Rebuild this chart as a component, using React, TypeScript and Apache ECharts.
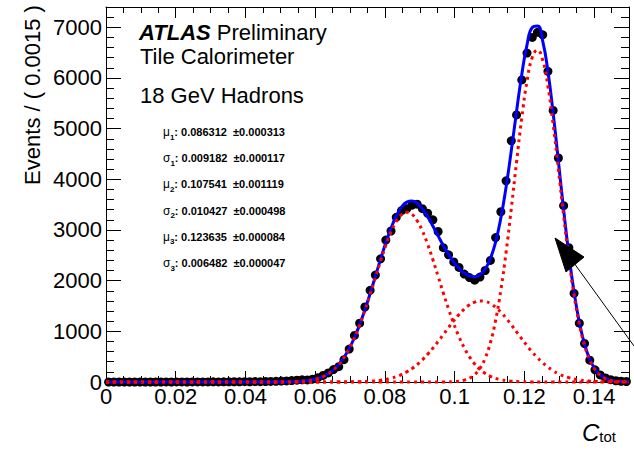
import React, { useEffect, useRef } from "react";
import * as echarts from "echarts";

// ---- data ----
const BIN_WIDTH = 0.0015; // "Events / ( 0.0015 )"
const X_MIN = 0;
const X_MAX = 0.15;
const Y_MAX = 7400;
const X_LABEL_STEP = 0.02;
const Y_LABEL_STEP = 1000;

// measured events per bin (100 bins, 0 .. 0.15)
const events = [
  0, 0, 0, 0, 0, 0, 0, 0, 0, 0,
  0, 1, 0, 1, 1, 0, 2, 1, 2, 2,
  3, 2, 4, 3, 5, 4, 6, 5, 8, 7,
  10, 12, 14, 18, 22, 28, 35, 42, 40, 55,
  85, 130, 180, 245, 302, 440, 650, 920, 1160, 1480,
  1810, 2110, 2430, 2800, 2980, 3250, 3380, 3420, 3490, 3510,
  3420, 3330, 3200, 2970, 2650, 2510, 2370, 2260, 2130, 2060,
  2010, 2070, 2200, 2400, 2850, 3360, 3970, 4760, 5270, 5960,
  6490, 6800, 6900, 6850, 6130, 5360, 4420, 3480, 2650, 1750,
  1160, 760, 430, 240, 140, 80, 45, 25, 15, 10,
];

// fitted components (red dotted) at the bin centres
const gauss1 = [
  0, 0, 0, 0, 0, 0, 0, 0, 0, 0,
  0, 0, 0, 0, 0, 0, 0, 0, 0, 0,
  0, 0, 0, 0, 0, 0, 0, 0, 0, 0,
  0, 0, 1, 1.5, 3, 5, 9, 16, 27, 44,
  70, 108, 164, 242, 346, 484, 659, 873, 1126, 1414,
  1729, 2059, 2387, 2694, 2961, 3169, 3302, 3350, 3309, 3183,
  2980, 2718, 2412, 2085, 1755, 1439, 1148, 892, 674, 497,
  356, 249, 169, 112, 72, 45, 28, 16, 10, 5,
  3, 1.5, 1, 0, 0, 0, 0, 0, 0, 0,
  0, 0, 0, 0, 0, 0, 0, 0, 0, 0,
];
const gauss2 = [
  0, 0, 0, 0, 0, 0, 0, 0, 0, 0,
  0, 0, 0, 0, 0, 0, 0, 0, 0, 0,
  0, 0, 0, 0, 0, 0, 0, 0, 0, 0,
  0, 0, 0, 0, 0, 0, 0, 0, 0, 0,
  0, 0, 0, 0.4, 0.8, 1.3, 2.2, 3.7, 6, 9.8,
  15, 24, 35, 52, 75, 106, 147, 199, 264, 344,
  438, 546, 668, 799, 937, 1076, 1211, 1334, 1440, 1523,
  1577, 1599, 1589, 1547, 1474, 1377, 1259, 1128, 990, 851,
  717, 591, 477, 378, 293, 222, 165, 120, 86, 60,
  41, 28, 18, 12, 7, 5, 3, 2, 1, 0.5,
];
const gauss3 = [
  0, 0, 0, 0, 0, 0, 0, 0, 0, 0,
  0, 0, 0, 0, 0, 0, 0, 0, 0, 0,
  0, 0, 0, 0, 0, 0, 0, 0, 0, 0,
  0, 0, 0, 0, 0, 0, 0, 0, 0, 0,
  0, 0, 0, 0, 0, 0, 0, 0, 0, 0,
  0, 0, 0, 0, 0, 0, 0, 0, 0, 0,
  0, 0, 0, 0, 1, 3, 7, 17, 37, 75,
  146, 269, 470, 778, 1221, 1817, 2562, 3426, 4341, 5213,
  5934, 6403, 6549, 6349, 5833, 5081, 4195, 3282, 2435, 1712,
  1140, 721, 431, 245, 132, 67, 32, 15, 6.5, 3,
];
// total fit (blue)
const totalFit = [
  0, 0, 0, 0, 0, 0, 0, 0, 0, 0,
  0, 0, 0, 0, 0, 0, 0, 0, 0, 0,
  0, 0, 0, 0, 0, 0, 0, 0, 0, 0,
  0, 0, 1, 1.5, 3, 5, 9, 16, 27, 44,
  70, 108, 164, 242, 347, 485, 661, 877, 1132, 1424,
  1744, 2083, 2422, 2746, 3036, 3275, 3449, 3549, 3573, 3527,
  3418, 3264, 3080, 2884, 2693, 2518, 2366, 2243, 2151, 2095,
  2079, 2117, 2228, 2437, 2767, 3239, 3849, 4570, 5341, 6069,
  6654, 6996, 7027, 6727, 6126, 5303, 4360, 3402, 2521, 1772,
  1181, 749, 449, 257, 139, 72, 35, 17, 7.5, 3.5,
];

const paramLines = [
  { sym: "μ", sub: "1", val: "0.086312", err: "0.000313" },
  { sym: "σ", sub: "1", val: "0.009182", err: "0.000117" },
  { sym: "μ", sub: "2", val: "0.107541", err: "0.001119" },
  { sym: "σ", sub: "2", val: "0.010427", err: "0.000498" },
  { sym: "μ", sub: "3", val: "0.123635", err: "0.000084" },
  { sym: "σ", sub: "3", val: "0.006482", err: "0.000047" },
];

const FONT = "'Liberation Sans', Arial, Helvetica, sans-serif";

function binCenter(i: number) {
  return +(BIN_WIDTH * (i + 0.5)).toFixed(6);
}
function curveData(arr: number[]) {
  const pts: number[][] = arr.map((v, i) => [binCenter(i), v]);
  return [[X_MIN, arr[0]], ...pts, [X_MAX, arr[arr.length - 1]]];
}

function isMultiple(v: number, step: number) {
  const r = v / step;
  return Math.abs(r - Math.round(r)) < 1e-6;
}

export default function App() {
  const ref = useRef<HTMLDivElement>(null);
  useEffect(() => {
    if (!ref.current) return;
    const chart = echarts.init(ref.current, undefined, { renderer: "svg" });

    const baseAxis = {
      type: "value" as const,
      splitLine: { show: false },
    };
    const tickStyle = { color: "#000", width: 1 };

    const xMajor = (pos: "bottom" | "top", labels: boolean) => ({
      ...baseAxis,
      position: pos,
      min: X_MIN,
      max: X_MAX,
      interval: X_LABEL_STEP,
      axisLine: { show: true, onZero: false, lineStyle: { color: "#000", width: 1 } },
      axisTick: { show: true, inside: true, length: 11, lineStyle: tickStyle },
      axisLabel: labels
        ? {
            show: true,
            margin: 3,
            color: "#000",
            fontFamily: FONT,
            fontSize: 22,
            formatter: (v: number) =>
              isMultiple(v, X_LABEL_STEP) && v < X_MAX - 1e-9 ? String(+v.toFixed(3)) : "",
          }
        : { show: false },
    });
    const xMinor = (pos: "bottom" | "top") => ({
      ...baseAxis,
      position: pos,
      min: X_MIN,
      max: X_MAX,
      interval: 0.005,
      axisLine: { show: false, onZero: false },
      axisTick: { show: true, inside: true, length: 6, lineStyle: tickStyle },
      axisLabel: { show: false },
    });
    const yMajor = (pos: "left" | "right", labels: boolean) => ({
      ...baseAxis,
      position: pos,
      min: 0,
      max: Y_MAX,
      interval: Y_LABEL_STEP,
      axisLine: { show: true, onZero: false, lineStyle: { color: "#000", width: 1 } },
      axisTick: { show: true, inside: true, length: 15, lineStyle: tickStyle },
      axisLabel: labels
        ? {
            show: true,
            margin: 4,
            color: "#000",
            fontFamily: FONT,
            fontSize: 22,
            formatter: (v: number) => (isMultiple(v, Y_LABEL_STEP) ? String(v) : ""),
          }
        : { show: false },
    });
    const yMinor = (pos: "left" | "right") => ({
      ...baseAxis,
      position: pos,
      min: 0,
      max: Y_MAX,
      interval: 200,
      axisLine: { show: false, onZero: false },
      axisTick: { show: true, inside: true, length: 8, lineStyle: tickStyle },
      axisLabel: { show: false },
    });

    const redLine = (arr: number[]) => ({
      type: "line",
      data: curveData(arr),
      xAxisIndex: 0,
      yAxisIndex: 0,
      smooth: true,
      symbol: "none",
      showSymbol: false,
      clip: false,
      z: 5,
      lineStyle: { color: "#ff0000", width: 3, type: [3, 4], cap: "butt", opacity: 1 },
      silent: true,
    });

    const paramTexts = paramLines.map((p, k) => ({
      type: "text",
      x: 163,
      y: 132 + k * 26.2,
      style: {
        text: `{g|${p.sym}}{s|${p.sub}}{b|: ${p.val}  ±${p.err}}`,
        x: 0,
        y: 0,
        verticalAlign: "middle",
        align: "left",
        fill: "#000",
        rich: {
          g: { fontFamily: FONT, fontSize: 12, fontWeight: "normal", lineHeight: 18, verticalAlign: "middle" },
          s: { fontFamily: FONT, fontSize: 8, fontWeight: "bold", lineHeight: 6, verticalAlign: "bottom" },
          b: { fontFamily: FONT, fontSize: 11, fontWeight: "bold", lineHeight: 18, verticalAlign: "middle" },
        },
      },
      z: 20,
    }));

    const option: any = {
      animation: false,
      backgroundColor: "#fff",
      grid: { left: 106, right: 5, top: 7, bottom: 68, outerBoundsMode: "none" },
      xAxis: [xMajor("bottom", true), xMinor("bottom"), xMajor("top", false), xMinor("top")],
      yAxis: [yMajor("left", true), yMinor("left"), yMajor("right", false), yMinor("right")],
      series: [
        {
          type: "scatter",
          data: events.map((v, i) => [binCenter(i), v]),
          xAxisIndex: 0,
          yAxisIndex: 0,
          symbol: "circle",
          symbolSize: 9,
          clip: false,
          z: 3,
          itemStyle: { color: "#000", opacity: 1 },
          silent: true,
        },
        {
          type: "line",
          data: curveData(totalFit),
          xAxisIndex: 0,
          yAxisIndex: 0,
          smooth: true,
          symbol: "none",
          showSymbol: false,
          clip: false,
          z: 4,
          lineStyle: { color: "#0000ff", width: 3, opacity: 1 },
          silent: true,
        },
        redLine(gauss1),
        redLine(gauss2),
        redLine(gauss3),
      ],
      graphic: [
        {
          type: "text",
          x: 32,
          y: 95,
          rotation: Math.PI / 2,
          style: {
            text: "Events / ( 0.0015 )",
            x: 0,
            y: 0,
            align: "center",
            verticalAlign: "middle",
            fontFamily: FONT,
            fontSize: 22,
            fill: "#000",
          },
        },
        {
          type: "text",
          x: 616,
          y: 432,
          style: {
            text: "{c|C}{s|tot}",
            x: 0,
            y: 0,
            align: "right",
            verticalAlign: "middle",
            fill: "#000",
            rich: {
              c: { fontFamily: FONT, fontSize: 24, fontStyle: "italic", lineHeight: 24, verticalAlign: "middle" },
              s: { fontFamily: FONT, fontSize: 15, lineHeight: 12, verticalAlign: "bottom" },
            },
          },
        },
        {
          type: "text",
          x: 139,
          y: 32,
          style: {
            text: "{a|ATLAS}{p| Preliminary}",
            x: 0,
            y: 0,
            align: "left",
            verticalAlign: "middle",
            fill: "#000",
            rich: {
              a: { fontFamily: FONT, fontSize: 22, fontWeight: "bold", fontStyle: "italic", lineHeight: 20 },
              p: { fontFamily: FONT, fontSize: 22, lineHeight: 20 },
            },
          },
        },
        {
          type: "text",
          x: 140,
          y: 56,
          style: {
            text: "Tile Calorimeter",
            x: 0,
            y: 0,
            verticalAlign: "middle",
            fontFamily: FONT,
            fontSize: 22,
            lineHeight: 20,
            fill: "#000",
          },
        },
        {
          type: "text",
          x: 140,
          y: 95,
          style: {
            text: "18 GeV Hadrons",
            x: 0,
            y: 0,
            verticalAlign: "middle",
            fontFamily: FONT,
            fontSize: 22,
            lineHeight: 20,
            fill: "#000",
          },
        },
        ...paramTexts,
        {
          type: "line",
          shape: { x1: 634, y1: 346, x2: 574, y2: 263 },
          style: { stroke: "#000", lineWidth: 1 },
          z: 20,
        },
        {
          type: "polygon",
          shape: { points: [[555, 238], [584, 257], [566, 272]] },
          style: { fill: "#000", stroke: "#000", lineWidth: 1 },
          z: 20,
        },
      ],
    };

    chart.setOption(option);
    return () => chart.dispose();
  }, []);

  return (
    <div
      ref={ref}
      style={{ position: "fixed", left: 0, top: 0, width: 634, height: 450, background: "#fff" }}
    />
  );
}
